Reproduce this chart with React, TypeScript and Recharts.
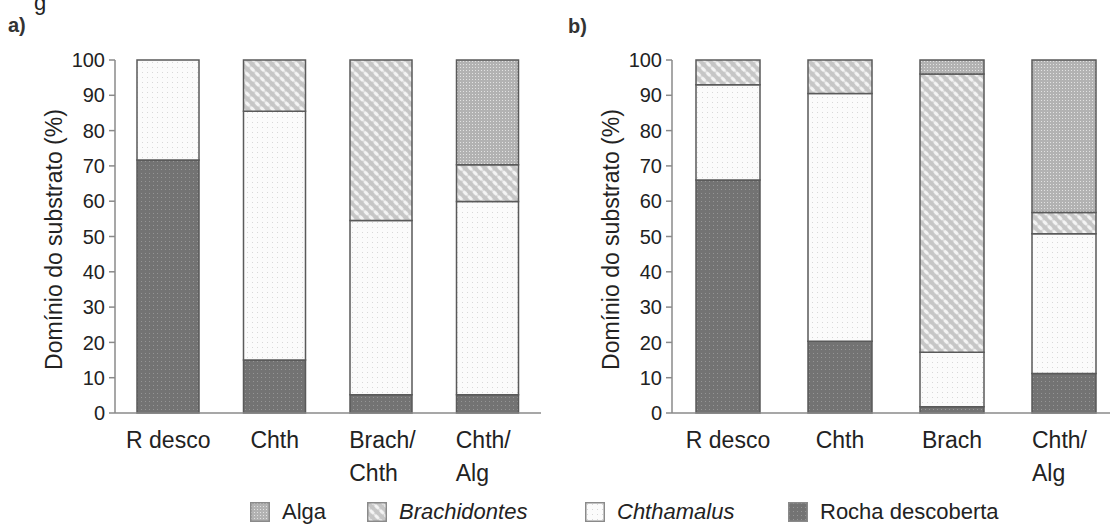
import React from "react"
import { Bar, BarChart, XAxis, YAxis } from "recharts"

// panel a
const categoriesA = ["R desco", "Chth", "Brach/\nChth", "Chth/\nAlg"]
const rochaA = [71.7, 15, 5.2, 5.2]
const chthamalusA = [28.3, 70.5, 49.3, 54.7]
const brachidontesA = [0, 14.5, 45.5, 10.4]
const algaA = [0, 0, 0, 29.7]

// panel b
const categoriesB = ["R desco", "Chth", "Brach", "Chth/\nAlg"]
const rochaB = [66, 20.3, 1.8, 11.2]
const chthamalusB = [27, 70.2, 15.4, 39.6]
const brachidontesB = [7, 9.5, 78.8, 6]
const algaB = [0, 0, 4, 43.2]

const yTicks = [0, 10, 20, 30, 40, 50, 60, 70, 80, 90, 100]
const yTitle = "Domínio do substrato (%)"

const legendItems = [
  { key: "alga", label: "Alga", italic: false },
  { key: "brachidontes", label: "Brachidontes", italic: true },
  { key: "chthamalus", label: "Chthamalus", italic: true },
  { key: "rocha", label: "Rocha descoberta", italic: false },
]

const FONT = "'Liberation Sans', Arial, sans-serif"
const TEXT = "#222"
const AXIS = "#8a8a8a"

function buildRows(cats: string[], rocha: number[], chth: number[], brach: number[], alga: number[]) {
  return cats.map((name, i) => ({
    name,
    rocha: rocha[i],
    chthamalus: chth[i],
    brachidontes: brach[i],
    alga: alga[i],
  }))
}

const dataA = buildRows(categoriesA, rochaA, chthamalusA, brachidontesA, algaA)
const dataB = buildRows(categoriesB, rochaB, chthamalusB, brachidontesB, algaB)

// fill patterns, shared by bars and legend swatches
function Patterns() {
  return (
    <svg width={0} height={0} style={{ position: "absolute" }}>
      <defs>
        <pattern id="pat-rocha" width={4} height={4} patternUnits="userSpaceOnUse">
          <rect width={4} height={4} fill="#737373" />
          <rect x={1} y={1} width={1} height={1} fill="#959595" />
        </pattern>
        <pattern id="pat-chthamalus" width={5} height={5} patternUnits="userSpaceOnUse">
          <rect width={5} height={5} fill="#fbfbfb" />
          <rect x={2} y={2} width={1} height={1} fill="#d8d8d8" />
        </pattern>
        <pattern id="pat-brachidontes" width={7} height={7} patternUnits="userSpaceOnUse" patternTransform="rotate(45)">
          <rect width={7} height={7} fill="#c6c6c6" />
          <ellipse cx={3.5} cy={3.5} rx={3.3} ry={1.7} fill="#f4f4f4" />
        </pattern>
        <pattern id="pat-alga" width={3} height={3} patternUnits="userSpaceOnUse">
          <rect width={3} height={3} fill="#b2b2b2" />
          <rect x={1} y={1} width={1} height={1} fill="#e2e2e2" />
        </pattern>
      </defs>
    </svg>
  )
}

function CategoryTick({ x, y, payload }: any) {
  const lines = String(payload.value).split("\n")
  const multi = lines.length > 1
  const tx = multi ? x - 32 : x
  return (
    <text x={tx} y={y} textAnchor={multi ? "start" : "middle"} fontSize={23} fill={TEXT} fontFamily={FONT}>
      {lines.map((l, i) => (
        <tspan key={i} x={tx} dy={i === 0 ? 27 : 33}>
          {l}
        </tspan>
      ))}
    </text>
  )
}

function AxisTitle({ viewBox }: any) {
  const x = viewBox.x + viewBox.width - 53
  const y = viewBox.y + viewBox.height / 2 + 3
  return (
    <text x={x} y={y} transform={`rotate(-90, ${x}, ${y})`} textAnchor="middle" fontSize={23} fill={TEXT} fontFamily={FONT}>
      {yTitle}
    </text>
  )
}

interface PanelProps {
  data: any[]
  axisWidth: number
  rightMargin: number
  barSize: number
  left: number
}

function Panel({ data, axisWidth, rightMargin, barSize, left }: PanelProps) {
  const series = ["rocha", "chthamalus", "brachidontes", "alga"]
  return (
    <div style={{ position: "absolute", left, top: 0 }}>
      <BarChart width={560} height={525} data={data} margin={{ top: 60, right: rightMargin, left: 0, bottom: 0 }}>
        <XAxis
          dataKey="name"
          height={112}
          interval={0}
          tickLine={false}
          axisLine={{ stroke: AXIS, strokeWidth: 1.5 }}
          tick={<CategoryTick />}
        />
        <YAxis
          width={axisWidth}
          domain={[0, 100]}
          ticks={yTicks}
          interval={0}
          tickSize={6}
          tickMargin={4}
          axisLine={{ stroke: AXIS, strokeWidth: 1.5 }}
          tickLine={{ stroke: AXIS, strokeWidth: 1.5 }}
          tick={{ fontSize: 20, fill: TEXT, fontFamily: FONT }}
          label={<AxisTitle />}
        />
        {series.map((k) => (
          <Bar
            key={k}
            dataKey={k}
            stackId="s"
            barSize={barSize}
            fill={`url(#pat-${k})`}
            stroke="#5a5a5a"
            strokeWidth={1.5}
            isAnimationActive={false}
          />
        ))}
      </BarChart>
    </div>
  )
}

function LegendRow() {
  const lefts = [250, 367, 585, 788]
  return (
    <>
      {legendItems.map((it, i) => (
        <div
          key={it.key}
          style={{ position: "absolute", left: lefts[i], top: 500, display: "flex", alignItems: "center", gap: 12 }}
        >
          <svg width={20} height={20}>
            <rect x={0.75} y={0.75} width={18.5} height={18.5} fill={`url(#pat-${it.key})`} stroke="#8a8a8a" strokeWidth={1.5} />
          </svg>
          <span style={{ fontSize: 22, fontStyle: it.italic ? "italic" : "normal", color: TEXT, lineHeight: "24px" }}>
            {it.label}
          </span>
        </div>
      ))}
    </>
  )
}

export default function App() {
  return (
    <div
      style={{
        position: "fixed",
        left: 0,
        top: 0,
        width: 1110,
        height: 525,
        overflow: "hidden",
        background: "#fff",
        fontFamily: FONT,
      }}
    >
      <Patterns />
      <div style={{ position: "absolute", left: 34, top: -9, fontSize: 22, lineHeight: "24px", color: TEXT }}>g</div>
      <div style={{ position: "absolute", left: 8, top: 14, fontSize: 20, fontWeight: "bold", color: "#333" }}>a)</div>
      <div style={{ position: "absolute", left: 568, top: 15, fontSize: 20, fontWeight: "bold", color: "#333" }}>b)</div>
      <Panel data={dataA} axisWidth={115} rightMargin={19} barSize={62} left={0} />
      <Panel data={dataB} axisWidth={112} rightMargin={0} barSize={64} left={560} />
      <LegendRow />
    </div>
  )
}
